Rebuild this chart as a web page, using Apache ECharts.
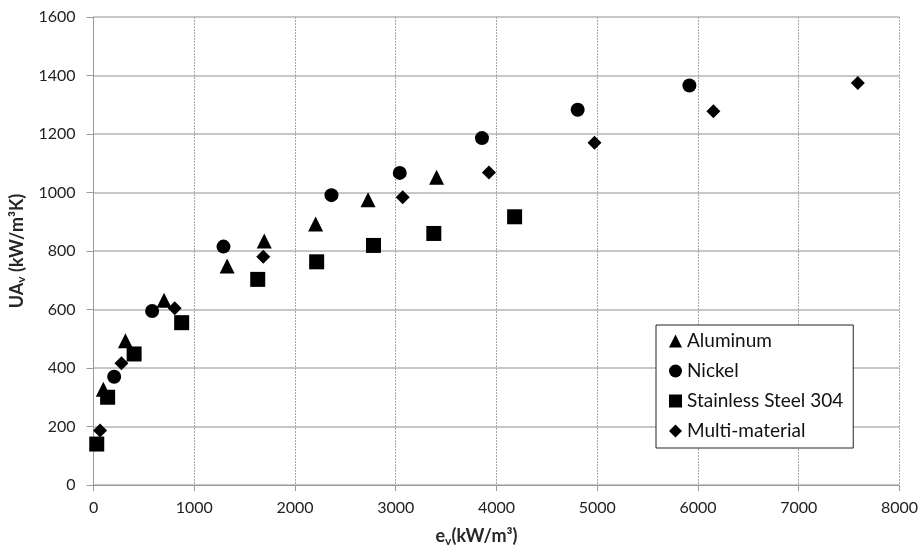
<!DOCTYPE html>
<html lang="en">
<head>
  <meta charset="UTF-8">
  <title>UAv vs ev</title>
  <style>
    * { padding: 0; margin: 0; }
    #charts { width: 921px; height: 552px; background: #fff; }
  </style>
</head>
<body>
  <div id="charts"></div>
  <script src="https://cdn.jsdelivr.net/npm/echarts@6/dist/echarts.min.js"></script>
  <script type="text/javascript">
    // [e_v, UA_v] pairs
    var aluminum = [[97, 327], [317, 493], [700, 632], [1326, 749], [1695, 834], [2205, 892], [2725, 975], [3405, 1052]]
    var nickel = [[205, 370], [582, 595], [1290, 815], [2362, 991], [3040, 1067], [3856, 1186], [4806, 1283], [5915, 1366]]
    var stainless = [[32, 140], [140, 300], [403, 448], [875, 555], [1630, 703], [2215, 763], [2779, 819], [3378, 860], [4180, 917]]
    var multi = [[65, 186], [277, 416], [806, 604], [1685, 780], [3069, 984], [3925, 1068], [4973, 1170], [6153, 1278], [7587, 1374]]
    var seriesNames = ['Aluminum', 'Nickel', 'Stainless Steel 304', 'Multi-material']

    var font = 'Lato, "Open Sans", sans-serif'
    var myChart = echarts.init(document.getElementById('charts'))

    function makeSeries(name, data, symbol, size) {
      return {
        name: name,
        type: 'scatter',
        data: data,
        symbol: symbol,
        symbolSize: size,
        itemStyle: { color: '#000', opacity: 1 },
        emphasis: { disabled: true }
      }
    }

    var titleRich = {
      b: { fontSize: 18, fontWeight: 'bold', color: '#262626', fontFamily: font },
      s: { fontSize: 12, fontWeight: 'bold', color: '#262626', fontFamily: font, padding: [9, 0, 0, 0] }
    }

    var option = {
      animation: false,
      textStyle: { fontFamily: font },
      grid: { left: 92, right: 15, top: 17, bottom: 67 },
      legend: {
        orient: 'vertical',
        left: 656,
        top: 325,
        padding: [6, 10, 7, 13],
        itemGap: 10,
        itemWidth: 13,
        itemHeight: 13,
        borderColor: '#222',
        borderWidth: 1,
        backgroundColor: '#fff',
        itemStyle: { opacity: 1, color: '#000' },
        textStyle: { fontSize: 19, lineHeight: 20, color: '#111', fontFamily: font },
        data: [
          { name: seriesNames[0], icon: 'triangle' },
          { name: seriesNames[1], icon: 'circle' },
          { name: seriesNames[2], icon: 'rect' },
          { name: seriesNames[3], icon: 'diamond' }
        ]
      },
      xAxis: {
        type: 'value',
        min: 0,
        max: 8000,
        interval: 1000,
        name: '{b|e}{s|v}{b|(kW/m³)}',
        nameLocation: 'middle',
        nameGap: 41,
        nameTextStyle: { rich: titleRich, padding: [0, 40, 0, 0] },
        axisLine: { show: true, lineStyle: { color: '#9a9a9a', width: 1 } },
        axisTick: { show: true, length: 6, lineStyle: { color: '#9a9a9a' } },
        axisLabel: { fontSize: 16, color: '#222', margin: 15, formatter: function (v) { return String(v) } },
        splitLine: { show: true, lineStyle: { color: '#a8a8a8', type: [2, 1], width: 1 } }
      },
      yAxis: {
        type: 'value',
        min: 0,
        max: 1600,
        interval: 200,
        name: '{b|UA}{s|v}{b| (kW/m³K)}',
        nameLocation: 'middle',
        nameGap: 66,
        nameRotate: 90,
        nameTextStyle: { rich: titleRich },
        axisLine: { show: true, lineStyle: { color: '#9a9a9a', width: 1 } },
        axisTick: { show: true, length: 7, lineStyle: { color: '#9a9a9a' } },
        axisLabel: { fontSize: 16, color: '#222', margin: 18, formatter: function (v) { return String(v) } },
        splitLine: { show: true, lineStyle: { color: '#b4b4b4', width: 1.5 } }
      },
      series: [
        makeSeries(seriesNames[0], aluminum, 'triangle', 15),
        makeSeries(seriesNames[1], nickel, 'circle', 14),
        makeSeries(seriesNames[2], stainless, 'rect', 15),
        makeSeries(seriesNames[3], multi, 'diamond', 14)
      ]
    }
    myChart.setOption(option)
  </script>
</body>
</html>
